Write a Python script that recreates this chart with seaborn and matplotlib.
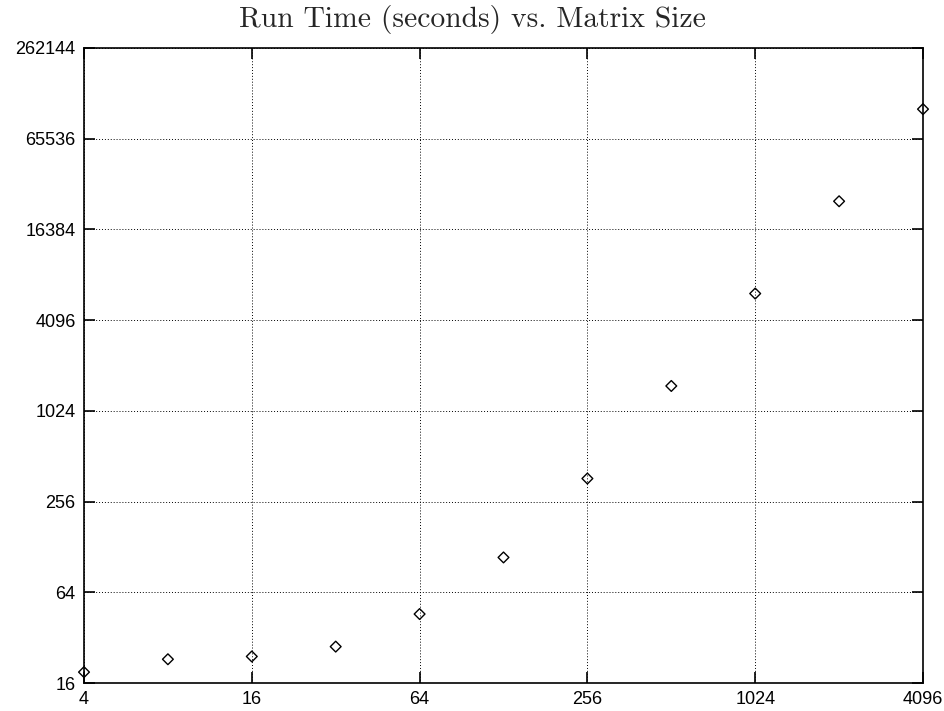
import matplotlib
matplotlib.use('Agg')
import matplotlib.pyplot as plt
import seaborn as sns
import pandas as pd
from matplotlib.ticker import FixedLocator, FixedFormatter, NullLocator

# data (log2 axes)
matrix_size = [4, 8, 16, 32, 64, 128, 256, 512, 1024, 2048, 4096]
run_time = [18.9, 23.0, 24.0, 27.9, 45.9, 109, 364, 1498, 6150, 25200, 103000]

x_ticks = [4, 16, 64, 256, 1024, 4096]
y_ticks = [16, 64, 256, 1024, 4096, 16384, 65536, 262144]

df = pd.DataFrame({'size': matrix_size, 'time': run_time})

sns.set_style('ticks')
plt.rcParams['font.family'] = ['Liberation Sans', 'DejaVu Sans']

fig = plt.figure(figsize=(9.44, 7.11), dpi=100)
ax = fig.add_axes([84 / 944, 1 - 683 / 711, (923 - 84) / 944, (683 - 48) / 711])

sns.scatterplot(data=df, x='size', y='time', ax=ax, marker='D', s=30,
                facecolor='none', edgecolor='black', linewidth=1.0,
                clip_on=False, zorder=5, legend=False)

ax.set_xscale('log', base=2)
ax.set_yscale('log', base=2)
ax.set_xlim(4, 4096)
ax.set_ylim(16, 262144)

ax.xaxis.set_major_locator(FixedLocator(x_ticks))
ax.xaxis.set_major_formatter(FixedFormatter([str(v) for v in x_ticks]))
ax.yaxis.set_major_locator(FixedLocator(y_ticks))
ax.yaxis.set_major_formatter(FixedFormatter([str(v) for v in y_ticks]))
ax.xaxis.set_minor_locator(NullLocator())
ax.yaxis.set_minor_locator(NullLocator())

ax.grid(True, color='black', linestyle=(0, (1, 2)), linewidth=0.7)
ax.tick_params(direction='in', length=8, width=1.2, top=True, right=True,
               labelsize=13, pad=6, colors='black')
for sp in ax.spines.values():
    sp.set_linewidth(1.2)
    sp.set_color('black')

ax.set_xlabel('')
ax.set_ylabel('')

# title centred on the figure, not the axes
fig.text(0.5, 1 - 20 / 711, 'Run Time (seconds) vs. Matrix Size',
         ha='center', va='center', fontsize=21.3, family='cmr10')

fig.savefig('out.png', dpi=100)
